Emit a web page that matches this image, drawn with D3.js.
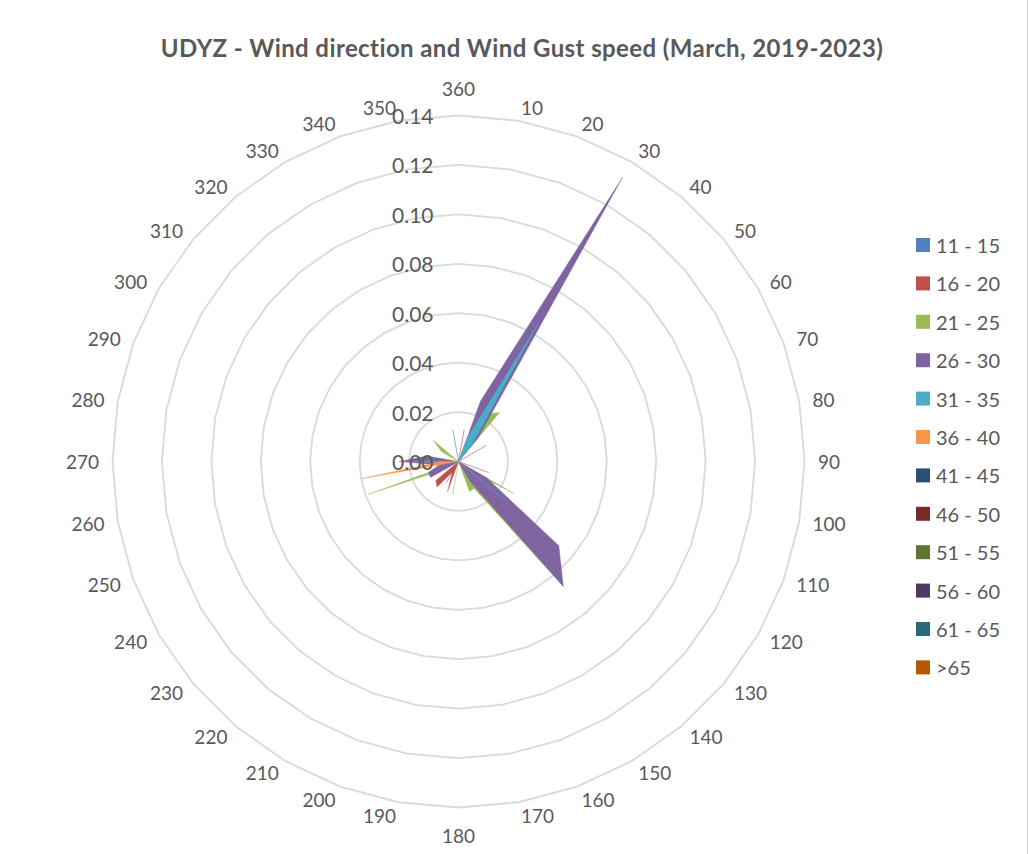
<!DOCTYPE html>
<html>
<head>
<meta charset="utf-8">
<script src="https://cdn.jsdelivr.net/npm/d3@7"></script>
<style>
  html, body { margin: 0; padding: 0; background: #ffffff; }
  svg { display: block; }
  text { font-family: Lato, "Open Sans", sans-serif; fill: #595959; }
</style>
</head>
<body>
<svg id="chart" width="1029" height="854"></svg>
<script>
// ---------- data ----------
const title = "UDYZ - Wind direction and Wind Gust speed (March, 2019-2023)";
const directions = ["360","10","20","30","40","50","60","70","80","90","100","110","120","130","140","150","160","170","180","190","200","210","220","230","240","250","260","270","280","290","300","310","320","330","340","350"];
const radialTicks = [0, 0.02, 0.04, 0.06, 0.08, 0.10, 0.12, 0.14];
const radialTickLabels = ["0.00","0.02","0.04","0.06","0.08","0.10","0.12","0.14"];
const seriesNames = ["11 - 15","16 - 20","21 - 25","26 - 30","31 - 35","36 - 40","41 - 45","46 - 50","51 - 55","56 - 60","61 - 65",">65"];
const seriesColors = ["#4F81BD","#C0504D","#9BBB59","#8064A2","#4BACC6","#F79646","#2C4D75","#772C2A","#5F7530","#4D3B62","#276A7C","#B65708"];

const g11_15 = [0,0,0,0,0,0,0,0,0,0, 0,0,0,0,0,0,0,0,0,0, 0,0,0,0,0,0,0,0,0,0, 0,0,0,0,0,0.013];
const g16_20 = [0,0.013,0,0,0,0,0.013,0,0,0, 0,0.013,0,0,0,0,0,0,0,0, 0.013,0.005,0.0135,0.012,0,0,0,0,0,0, 0,0,0,0,0,0];
const g21_25 = [0,0,0,0.022,0.026,0,0,0,0,0, 0,0,0.026,0.006,0.066,0.0125,0.013,0,0,0.0135, 0,0,0,0,0.006,0.039,0,0,0,0, 0.008,0.0135,0,0,0,0];
const g26_30 = [0,0,0.026,0.133,0.012,0,0,0,0,0, 0,0,0.013,0.053,0.066,0.009,0,0,0,0, 0,0.01,0,0,0.013,0.013,0.008,0.024,0.013,0, 0,0,0,0,0,0];
const g31_35 = [0,0,0.01,0.065,0.008,0,0,0,0,0, 0,0,0,0.026,0,0,0,0,0,0, 0,0,0,0,0,0,0.003,0.023,0,0, 0,0,0,0,0,0];
const g36_40 = [0,0,0,0,0,0,0,0,0,0, 0,0,0,0,0,0,0,0,0,0, 0,0,0,0,0,0,0.04,0.007,0,0, 0,0,0,0,0,0];
const g41_45 = [0,0,0,0,0,0,0,0,0,0, 0,0,0,0,0,0,0,0,0,0, 0,0,0,0,0,0,0,0,0,0, 0,0,0,0,0,0];
const g46_50 = [0,0,0,0,0,0,0,0,0,0, 0,0,0,0,0,0,0,0,0,0, 0,0,0,0,0,0,0,0,0,0, 0,0,0,0,0,0];
const g51_55 = [0,0,0,0,0,0,0,0,0,0, 0,0,0,0,0,0,0,0,0,0, 0,0,0,0,0,0,0,0,0,0, 0,0,0,0,0,0];
const g56_60 = [0,0,0,0,0,0,0,0,0,0, 0,0,0,0,0,0,0,0,0,0, 0,0,0,0,0,0,0,0,0,0, 0,0,0,0,0,0];
const g61_65 = [0,0,0,0,0,0,0,0,0,0, 0,0,0,0,0,0,0,0,0,0, 0,0,0,0,0,0,0,0,0,0, 0,0,0,0,0,0];
const gOver65 = [0,0,0,0,0,0,0,0,0,0, 0,0,0,0,0,0,0,0,0,0, 0,0,0,0,0,0,0,0,0,0, 0,0,0,0,0,0];

const seriesValues = [g11_15,g16_20,g21_25,g26_30,g31_35,g36_40,g41_45,g46_50,g51_55,g56_60,g61_65,gOver65];

// ---------- layout ----------
const W = 1029, H = 854;
const cx = 458.5, cy = 461.5, R = 346;
const svg = d3.select("#chart");

// chart border (right edge visible)
svg.append("line").attr("x1", W - 1.5).attr("x2", W - 1.5).attr("y1", 0).attr("y2", H)
  .attr("stroke", "#d9d9d9").attr("stroke-width", 1);

svg.append("text")
  .attr("x", 522).attr("y", 47)
  .attr("text-anchor", "middle").attr("dominant-baseline", "central")
  .style("font-size", "24px").style("font-weight", "700").style("letter-spacing", "0.4px")
  .text(title);

const r = d3.scaleLinear().domain([0, 0.14]).range([0, R]);
const angle = d3.scalePoint().domain(directions).range([0, 2 * Math.PI * (35 / 36)]);

const g = svg.append("g").attr("transform", `translate(${cx},${cy})`);

// grid polygons
const gridLine = d3.lineRadial().curve(d3.curveLinearClosed);
radialTicks.filter(t => t > 0).forEach(t => {
  g.append("path")
    .attr("d", gridLine(directions.map(d => [angle(d), r(t)])))
    .attr("fill", "none").attr("stroke", "#d9d9d9").attr("stroke-width", 1.8);
});

// series polygons
const area = d3.lineRadial().curve(d3.curveLinearClosed);
seriesValues.forEach((vals, i) => {
  g.append("path")
    .attr("d", area(directions.map((d, j) => [angle(d), r(vals[j])])))
    .attr("fill", seriesColors[i])
    .attr("stroke", seriesColors[i])
    .attr("stroke-opacity", 0.45)
    .attr("stroke-width", 0.8)
    .attr("stroke-linejoin", "miter");
});

// category labels (Excel-style placement: start/end anchored by side)
const labelR = 359.5;
directions.forEach(d => {
  const a = angle(d);
  const deg = Math.round(a * 180 / Math.PI);
  let x = labelR * Math.sin(a);
  let y = -labelR * Math.cos(a);
  let anchor = "middle";
  if (deg === 0) y -= 14;
  else if (deg === 180) y += 14;
  else anchor = deg < 180 ? "start" : "end";
  g.append("text")
    .attr("x", x).attr("y", y)
    .attr("text-anchor", anchor).attr("dominant-baseline", "central")
    .style("font-size", "19px")
    .text(d);
});

// radial tick labels
radialTicks.forEach((t, i) => {
  g.append("text")
    .attr("x", -25).attr("y", -r(t))
    .attr("text-anchor", "end").attr("dominant-baseline", "central")
    .style("font-size", "21px")
    .text(radialTickLabels[i]);
});

// legend
const legend = svg.append("g").attr("transform", "translate(916,245)");
seriesNames.forEach((n, i) => {
  const row = legend.append("g").attr("transform", `translate(0,${i * 38.4})`);
  row.append("rect").attr("x", 0).attr("y", -7).attr("width", 14).attr("height", 14).attr("fill", seriesColors[i]);
  row.append("text").attr("x", 20).attr("y", 0).attr("dominant-baseline", "central")
    .style("font-size", "20px").text(n);
});
</script>
</body>
</html>
